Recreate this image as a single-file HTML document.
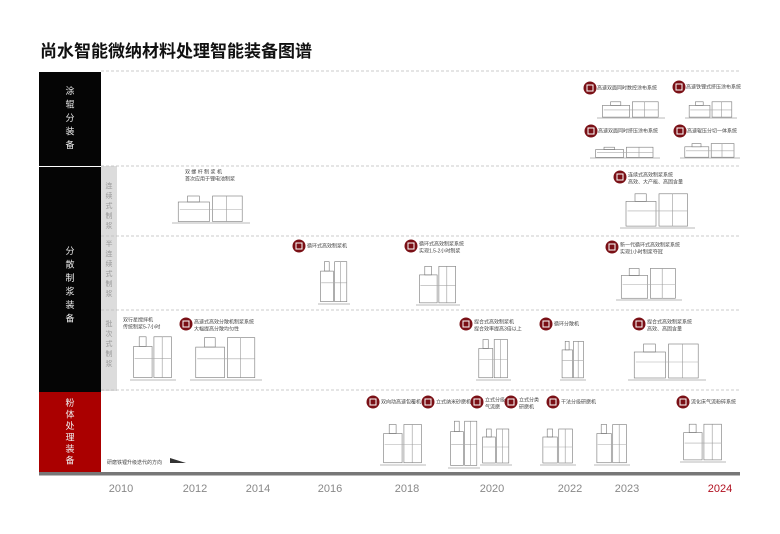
<!DOCTYPE html>
<html><head><meta charset="utf-8">
<style>
html,body{margin:0;padding:0;background:#fff;}
svg{display:block;font-family:"Liberation Sans","Noto Sans CJK SC",sans-serif;}
</style></head>
<body>
<svg id="chart" width="780" height="534" viewBox="0 0 780 534" xmlns="http://www.w3.org/2000/svg">
  <rect width="780" height="534" fill="#fff"/>
  <text x="40" y="57" font-size="17" font-weight="bold" fill="#111" font-family="Noto Sans CJK SC, sans-serif">尚水智能微纳材料处理智能装备图谱</text>

  <rect x="39" y="72" width="62" height="94" fill="#050505"/>
  <rect x="39" y="167" width="62" height="225" fill="#050505"/>
  <rect x="39" y="392" width="62" height="80" fill="#a00"/>
  <rect x="101" y="166" width="16" height="225" fill="#dcdcdc"/>
  <g id="cats" font-size="9" fill="#eee" text-anchor="middle"></g>
  <g id="subs" font-size="7" fill="#999" text-anchor="middle"></g>
  <g id="grid"></g>
  <rect x="39" y="472" width="701" height="3.5" fill="#777"/>
  <g id="years" font-size="11" fill="#888" text-anchor="middle"></g>
  <g id="items"></g>

  <text x="107" y="464" font-size="5" fill="#444">研磨铁锂升级迭代的方向</text>
  <polygon points="170,458 170,463 186,463" fill="#333"/>
</svg>
<script>
const years = ["2010","2012","2014","2016","2018","2020","2022","2023","2024"];
const yearX = [121,195,258,330,407,492,570,627,720];
const rowLines = [71,166,236,310,390];

const NS="http://www.w3.org/2000/svg";
function mk(tag, attrs, parent, txt){const e=document.createElementNS(NS,tag);for(const k in attrs)e.setAttribute(k,attrs[k]);if(txt!==undefined)e.textContent=txt;parent.appendChild(e);return e;}

const grid=document.getElementById('grid');
rowLines.forEach(y=>{
  const l=mk('line',{x1:101,x2:740,y1:y,y2:y,stroke:'#bbb','stroke-width':0.7,'stroke-dasharray':'3,2'},grid);
  
  
});

const yg=document.getElementById('years');
years.forEach((t,i)=>{
  const e=mk('text',{x:yearX[i],y:492,fill:t==="2024"?"#b01020":"#888"},yg,t);
  
  
});

function vtext(g,str,x,y0,dy,name){
  const e=mk('text',{x:x,y:y0},g);
  
  
  [...str].forEach((c,i)=>mk('tspan',{x:x,y:y0+i*dy},e,c));
}
const cats=document.getElementById('cats');
vtext(cats,"涂辊分装备",70,94,13.5,'coating-category-label');
vtext(cats,"分散制浆装备",70,254,13.5,'dispersion-category-label');
vtext(cats,"粉体处理装备",70,406,11.5,'powder-category-label');
const subs=document.getElementById('subs');
vtext(subs,"连续式制浆",109,188,10,'continuous-sub-label');
vtext(subs,"半连续式制浆",109,246,10,'semi-continuous-sub-label');
vtext(subs,"批次式制浆",109,326,10,'batch-sub-label');

const items=[
 [590,88,["高速双面同时数控涂布系统"],597,597,100,68,18],
 [679,87,["高速铁锂式挤压涂布系统"],686,685,100,52,18],
 [591,131,["高速双面同时挤压涂布系统"],598,590,146,70,12],
 [680,131,["高速辊压分切一体系统"],687,680,142,60,16],
 [null,174,["双 螺 杆 制 浆 机","首次应用于锂电池制浆"],185,172,193,78,30],
 [620,177,["连续式高效制浆系统","高效、大产能、高固含量"],628,620,190,75,38],
 [299,246,["循环式高效制浆机"],307,318,257,32,47],
 [411,246,["循环式高效制浆系统","实现1.5-2小时制浆"],419,416,262,44,43],
 [612,247,["新一代循环式高效制浆系统","实现1小时制浆夺冠"],620,616,265,66,35],
 [null,322,["双行星搅拌机","传统制浆5-7小时"],123,130,332,46,48],
 [186,324,["高速式高效分散机制浆系统","大幅提高分散均匀性"],194,190,333,72,47],
 [466,324,["捏合式高效制浆机","捏合效率提高3倍以上"],474,476,335,35,45],
 [546,324,["循环分散机"],554,560,337,26,43],
 [639,324,["捏合式高效制浆系统","高效、高固含量"],647,628,340,78,40],
 [373,402,["双向动高速包覆机"],381,380,420,46,45],
 [428,402,["立式纳米砂磨机"],436,448,416,32,52],
 [477,402,["立式分级","气流磨"],485,480,425,32,40],
 [511,402,["立式分类","研磨机"],519,540,425,36,40],
 [553,402,["干法分级研磨机"],561,594,420,36,45],
 [683,402,["流化床气流粉碎系统"],691,680,420,46,42],
];
const ig=document.getElementById('items');
items.forEach((it,i)=>{
  const [bx,by,lines,tx,dx,dy,dw,dh]=it;
  const g=mk('g',{},ig);
  
  
  if(bx!==null){
    const c=mk('circle',{cx:bx,cy:by,r:6.5,fill:'#7a1016'},g);
    
    
    mk('rect',{x:bx-3,y:by-3,width:6,height:6,fill:'none',stroke:'#fff','stroke-width':1},g);
  }
  lines.forEach((t,j)=>{
    const e=mk('text',{x:tx,y:by+1.5+j*7-(lines.length>1?2:0),'font-size':5,fill:'#444'},g,t);
    
    
  });
  const d=mk('g',{fill:'none',stroke:'#777','stroke-width':0.6},g);
  
  
  mk('rect',{x:dx+dw*0.08,y:dy+dh*0.3,width:dw*0.4,height:dh*0.65},d);
  mk('rect',{x:dx+dw*0.52,y:dy+dh*0.1,width:dw*0.38,height:dh*0.85},d);
  mk('rect',{x:dx+dw*0.2,y:dy+dh*0.1,width:dw*0.15,height:dh*0.2},d);
  mk('line',{x1:dx,y1:dy+dh,x2:dx+dw,y2:dy+dh},d);
  mk('line',{x1:dx+dw*0.1,y1:dy+dh*0.55,x2:dx+dw*0.9,y2:dy+dh*0.55,stroke:'#aaa'},d);
  mk('line',{x1:dx+dw*0.7,y1:dy+dh*0.1,x2:dx+dw*0.7,y2:dy+dh*0.95,stroke:'#999'},d);
});
</script>
</body></html>
